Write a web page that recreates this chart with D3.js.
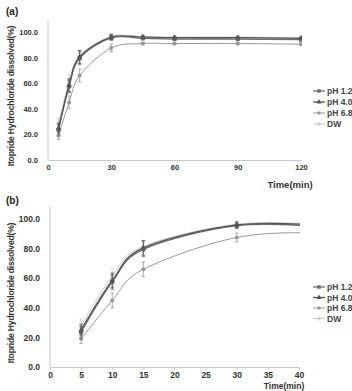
<!DOCTYPE html>
<html><head><meta charset="utf-8">
<script src="https://cdn.jsdelivr.net/npm/d3@7"></script>
<style>body{margin:0;background:#fff;}svg{display:block;font-family:Arial,"Liberation Sans",sans-serif;}</style>
</head><body>
<script>
const times = [5, 10, 15, 30, 45, 60, 90, 120];
const seriesNames = ["pH 1.2", "pH 4.0", "pH 6.8", "DW"];
const pH12 = [23.5, 57.5, 79.5, 95.5, 95.0, 94.5, 94.5, 94.0];
const pH40 = [25.0, 58.5, 80.5, 96.0, 96.0, 95.5, 95.5, 95.0];
const pH68 = [19.0, 45.0, 66.0, 87.5, 91.0, 91.0, 91.0, 90.5];
const DW   = [27.5, 61.5, 81.5, 96.5, 96.5, 96.0, 96.0, 95.5];
const err12 = [4, 5, 5, 2, 1, 1, 1, 1];
const err40 = [4, 5, 5, 2, 1, 1, 1, 1];
const err68 = [3, 5, 5, 3, 1, 1, 1, 1];
const errDW = [5, 5, 4, 2, 1, 1, 1, 1];
const yTicks = [0, 20, 40, 60, 80, 100];
const xTicksA = [0, 30, 60, 90, 120];
const xTicksB = [0, 5, 10, 15, 20, 25, 30, 35, 40];

const series = [
  {name: seriesNames[0], v: pH12, e: err12, color: "#6e6e6e", marker: "square", w: 1.3},
  {name: seriesNames[1], v: pH40, e: err40, color: "#555555", marker: "triangle", w: 1.3},
  {name: seriesNames[2], v: pH68, e: err68, color: "#999999", marker: "circle", w: 1.0},
  {name: seriesNames[3], v: DW,   e: errDW, color: "#cccccc", marker: "plus", w: 1.0}
];

const W = 352, H = 391;
const svg = d3.select("body").append("svg").attr("width", W).attr("height", H);

function panel(cfg) {
  const x = d3.scaleLinear().domain(cfg.xdom).range(cfg.xr);
  const y = d3.scaleLinear().domain([0, 100]).range(cfg.yr);
  const g = svg.append("g");
  const clipId = "clip" + cfg.id;
  svg.append("clipPath").attr("id", clipId).append("rect")
    .attr("x", cfg.xr[0]).attr("y", cfg.yr[1] - 20)
    .attr("width", cfg.xr[1] - cfg.xr[0] + 1).attr("height", cfg.yr[0] - cfg.yr[1] + 20);

  const xa = g.append("g").attr("transform", `translate(0,${cfg.yr[0]})`)
    .call(d3.axisBottom(x).tickValues(cfg.xticks).tickFormat(d3.format("d")).tickSize(cfg.tickSize).tickSizeOuter(0));
  xa.select(".domain").attr("stroke", "#c8c8c8");
  xa.selectAll(".tick line").attr("stroke", "#c8c8c8");
  xa.selectAll("text").attr("fill", "#333").attr("font-weight", "bold").attr("font-size", cfg.fs).attr("dy", cfg.xdy);

  const ya = g.append("g").attr("transform", `translate(${cfg.xr[0]},0)`)
    .call(d3.axisLeft(y).tickValues(yTicks).tickFormat(d3.format(".1f")).tickSize(0).tickSizeOuter(0).tickPadding(10));
  ya.select(".domain").attr("stroke", "#c8c8c8").attr("d", `M0,${cfg.yr[0]}V${cfg.yr[1] - 12}`);
  ya.selectAll("text").attr("fill", "#333").attr("font-weight", "bold").attr("font-size", cfg.fs);

  g.append("text").attr("x", 6).attr("y", cfg.labelY).text(cfg.label)
    .attr("font-weight", "bold").attr("font-size", 10).attr("fill", "#222");
  g.append("text").attr("transform", `translate(${cfg.ytx},${(cfg.yr[0] + cfg.yr[1]) / 2}) rotate(-90)`)
    .attr("text-anchor", "middle").attr("font-weight", "bold").attr("font-size", 8.6).attr("fill", "#333")
    .attr("letter-spacing", -0.2)
    .text("Itopride Hydrochloride dissolved(%)");
  g.append("text").attr("x", cfg.xtx).attr("y", cfg.xty).attr("text-anchor", "middle")
    .attr("font-weight", "bold").attr("font-size", cfg.xtfs).attr("fill", "#333").text("Time(min)");

  const plot = g.append("g").attr("clip-path", `url(#${clipId})`);
  const line = d3.line().x(d => x(d.t)).y(d => y(d.v)).curve(d3.curveCardinal.tension(0));

  const order = [3, 2, 0, 1];
  order.forEach(i => {
    const s = series[i];
    const pts = times.map((t, k) => ({t, v: s.v[k], e: s.e[k]}));
    plot.append("path").datum(pts).attr("d", line).attr("fill", "none")
      .attr("stroke", s.color).attr("stroke-width", s.w);
    pts.filter(p => p.t <= cfg.xdom[1]).forEach(p => {
      const px = x(p.t);
      plot.append("line").attr("x1", px).attr("x2", px).attr("y1", y(p.v - p.e)).attr("y2", y(p.v + p.e))
        .attr("stroke", s.color).attr("stroke-width", 0.8);
      [p.v - p.e, p.v + p.e].forEach(vv => plot.append("line").attr("x1", px - 1.8).attr("x2", px + 1.8)
        .attr("y1", y(vv)).attr("y2", y(vv)).attr("stroke", s.color).attr("stroke-width", 0.8));
      drawMarker(plot, s, px, y(p.v), 0.8);
    });
  });

  series.forEach((s, i) => {
    const ly = cfg.legY + i * cfg.legDy;
    g.append("line").attr("x1", cfg.legX).attr("x2", cfg.legX + 12).attr("y1", ly).attr("y2", ly)
      .attr("stroke", s.color).attr("stroke-width", s.w);
    drawMarker(g, s, cfg.legX + 6, ly, 0.7);
    g.append("text").attr("x", cfg.legX + 14).attr("y", ly + 3).text(s.name)
      .attr("font-weight", "bold").attr("font-size", 8.5).attr("fill", "#444");
  });
}

function drawMarker(g, s, cx, cy, k) {
  if (s.marker === "square") {
    g.append("rect").attr("x", cx - 2.5 * k).attr("y", cy - 2.5 * k).attr("width", 5 * k).attr("height", 5 * k).attr("fill", s.color);
  } else if (s.marker === "triangle") {
    g.append("path").attr("d", d3.symbol(d3.symbolTriangle, 22 * k * k)()).attr("transform", `translate(${cx},${cy})`).attr("fill", s.color);
  } else if (s.marker === "circle") {
    g.append("circle").attr("cx", cx).attr("cy", cy).attr("r", 2.5 * k).attr("fill", s.color);
  } else {
    g.append("path").attr("d", d3.symbol(d3.symbolCross, 16 * k * k)()).attr("transform", `translate(${cx},${cy})`).attr("fill", s.color);
  }
}

panel({id: "a", xdom: [0, 120], xr: [48, 301], yr: [160, 32], xticks: xTicksA, tickSize: 0, xdy: "0.9em",
  fs: 7.5, label: "(a)", labelY: 15, ytx: 14, xtx: 290, xty: 188, xtfs: 9.5, legX: 313, legY: 91, legDy: 11});
panel({id: "b", xdom: [0, 40], xr: [50, 299], yr: [367, 219], xticks: xTicksB, tickSize: 3, xdy: "0.6em",
  fs: 8.5, label: "(b)", labelY: 204, ytx: 14, xtx: 284, xty: 389, xtfs: 8.5, legX: 313, legY: 287, legDy: 10.5});
</script>
</body></html>
